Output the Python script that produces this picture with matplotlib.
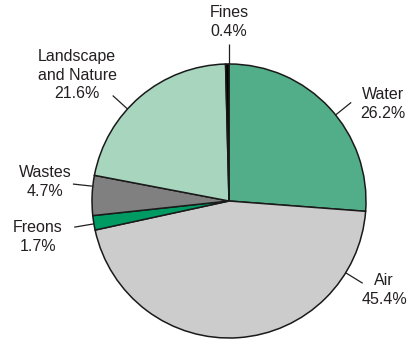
import numpy as np
import matplotlib
matplotlib.use("Agg")
import matplotlib.pyplot as plt

# slices, clockwise from the top
categories = ["Water", "Air", "Freons", "Wastes", "Landscape\nand Nature", "Fines"]
shares = [26.2, 45.4, 1.7, 4.7, 21.6, 0.4]
colors = ["#52ae88", "#cccccc", "#009a63", "#808080", "#a7d5be", "#000000"]

# label text centres (pixels from top-left) and leader line angles
label_xy = [(383, 104), (384, 290), (38, 237), (45, 182), (77, 75), (229, 22)]
leader_ang = [38.9, -31.6, -170.4, 173.8, 137.8, 90.0]

W, H = 411, 341
cx, cy, r = 229, H - 201, 137

fig = plt.figure(figsize=(W / 100, H / 100), dpi=100)
ax = fig.add_axes([0, 0, 1, 1])
ax.set_xlim(0, W)
ax.set_ylim(0, H)
ax.axis("off")

ax.pie(shares, colors=colors, startangle=90, counterclock=False,
       center=(cx, cy), radius=r,
       wedgeprops=dict(edgecolor="#1a1a1a", linewidth=1.1))
ax.set_xlim(0, W)
ax.set_ylim(0, H)
ax.set_aspect("equal")

txt = "#231f20"
for name, val, (lx, ly), a in zip(categories, shares, label_xy, leader_ang):
    t = np.deg2rad(a)
    ax.plot([cx + r * np.cos(t), cx + (r + 20) * np.cos(t)],
            [cy + r * np.sin(t), cy + (r + 20) * np.sin(t)],
            color=txt, lw=0.9, solid_capstyle="butt")
    ax.text(lx, H - ly, f"{name}\n{val}%", ha="center", va="center",
            fontsize=11.5, family="Liberation Sans", color=txt,
            linespacing=1.3)

fig.savefig("out.png", dpi=100)
